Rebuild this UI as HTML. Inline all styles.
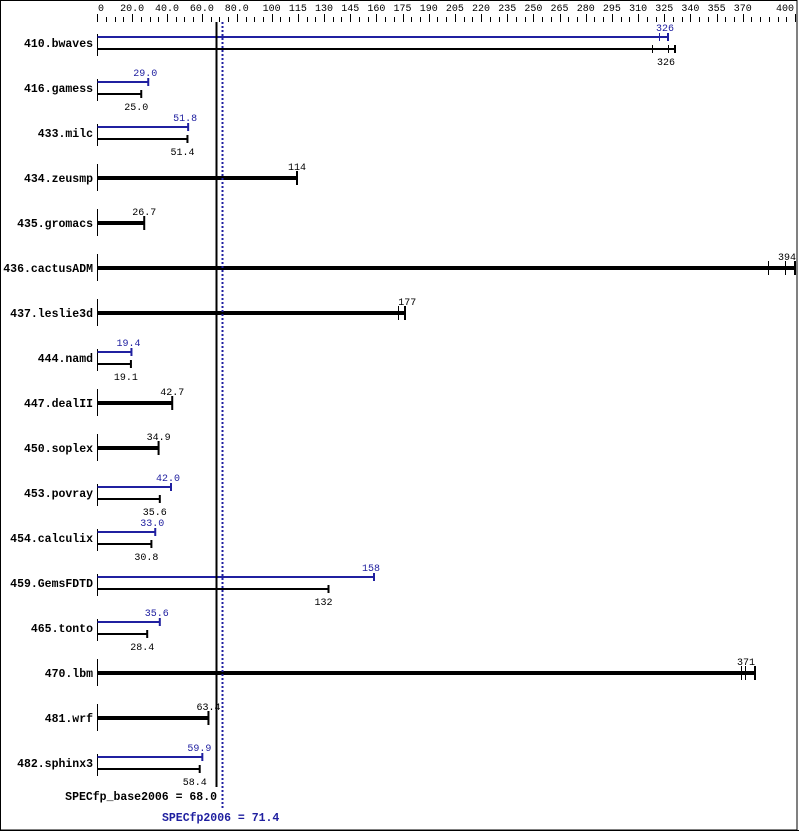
<!DOCTYPE html>
<html><head><meta charset="utf-8"><style>
html,body{margin:0;padding:0;background:#fff;}
svg{display:block;}
text{font-family:"Liberation Mono",monospace;}
.l{font-size:11.5px;font-weight:bold;text-anchor:end;fill:#000;}
.v{font-size:10px;text-anchor:middle;}
.t{font-size:10px;text-anchor:middle;fill:#000;}
</style></head><body>
<svg width="799" height="831" viewBox="0 0 799 831" xmlns="http://www.w3.org/2000/svg">
<rect x="0.5" y="0.5" width="796.5" height="829.5" fill="#fff" stroke="#000" stroke-width="1"/>
<line x1="0" y1="830.5" x2="799" y2="830.5" stroke="#000"/>
<g id="axis" stroke="#000" stroke-width="1"></g>
<g id="axl"></g>
<g id="rows"></g>
<line x1="216.5" y1="22" x2="216.5" y2="787" stroke="#000" stroke-width="2"/>
<line x1="222.5" y1="22" x2="222.5" y2="808" stroke="#2020a0" stroke-width="2" stroke-dasharray="2,2"/>
<text x="217" y="800" class="l" style="font-size:11.5px">SPECfp_base2006 = 68.0</text>
<text x="162" y="821" style="font-size:11.5px;font-weight:bold;fill:#2020a0">SPECfp2006 = 71.4</text>
</svg>
<script>
var NS="http://www.w3.org/2000/svg",x0=97.5,s=1.75;
function X(v){return x0+v*s;}
function el(p,t,a,txt){var e=document.createElementNS(NS,t);for(var k in a)e.setAttribute(k,a[k]);if(txt!=null)e.textContent=txt;p.appendChild(e);return e;}
var ax=document.getElementById('axis'),al=document.getElementById('axl');
var labs=[0,20,40,60,80,100,115,130,145,160,175,190,205,220,235,250,265,280,295,310,325,340,355,370,400];
for(var v=0;v<=400;v+=5){var x=Math.round(X(v)*0.997)+0.5;if(v==0)x=97.5;var big=labs.indexOf(v)>=0;el(ax,'line',{x1:x,y1:big?14:17,x2:x,y2:22});}
labs.forEach(function(v){var x=X(v)*0.997;if(v==0)x=101;var t=v<100?(v==0?'0':v.toFixed(1)):String(v);if(v==400)x=785;el(al,'text',{x:x,y:11,'class':'t'},t);});
var rows=[["410.bwaves",326,326,[652]],["416.gamess",29.0,25.0],["433.milc",51.8,51.4],["434.zeusmp",null,114],["435.gromacs",null,26.7],["436.cactusADM",null,394,[768,785]],["437.leslie3d",null,177,[398]],["444.namd",19.4,19.1],["447.dealII",null,42.7],["450.soplex",null,34.9],["453.povray",42.0,35.6],["454.calculix",33.0,30.8],["459.GemsFDTD",158,132],["465.tonto",35.6,28.4],["470.lbm",null,371,[741,745]],["481.wrf",null,63.4],["482.sphinx3",59.9,58.4]];
var R=document.getElementById('rows');
function fmt(v){return v>=100?String(Math.round(v)):v.toFixed(1);}
rows.forEach(function(r,i){var c=43+45*i;el(R,'text',{x:93,y:c+4,'class':'l'},r[0]);
 if(r[1]==null){var e=X(r[2]),lx=e;if(r[2]==394){e=795;lx=787;}if(r[2]==371){e=755;lx=746;}if(r[2]==177)e=405;
  el(R,'line',{x1:97.5,y1:c-14,x2:97.5,y2:c+13,stroke:'#000'});
  el(R,'rect',{x:97.5,y:c-2,width:e-97.5,height:4,fill:'#000'});
  el(R,'line',{x1:e,y1:c-7,x2:e,y2:c+7,stroke:'#000','stroke-width':2});
  (r[3]||[]).forEach(function(t){el(R,'line',{x1:t+0.5,y1:c-7,x2:t+0.5,y2:c+7,stroke:'#000'});});
  el(R,'text',{x:lx,y:c-8,'class':'v',fill:'#000'},fmt(r[2]));
 }else{var b=X(r[1]),k=X(r[2]);if(r[3]){k=675;}
  el(R,'line',{x1:97.5,y1:c-9,x2:97.5,y2:c+13,stroke:'#000'});
  el(R,'rect',{x:97.5,y:c-7,width:b-97.5,height:2,fill:'#2020a0'});
  el(R,'line',{x1:b,y1:c-10,x2:b,y2:c-2,stroke:'#2020a0','stroke-width':2});
  el(R,'rect',{x:97.5,y:c+5,width:k-97.5,height:2,fill:'#000'});
  el(R,'line',{x1:k,y1:c+2,x2:k,y2:c+10,stroke:'#000','stroke-width':2});
  if(r[3]){el(R,'line',{x1:652.5,y1:c+2,x2:652.5,y2:c+10,stroke:'#000'});el(R,'line',{x1:668.5,y1:c+2,x2:668.5,y2:c+10,stroke:'#000'});el(R,'line',{x1:659.5,y1:c-10,x2:659.5,y2:c-2,stroke:'#2020a0'});}
  el(R,'text',{x:b-3,y:c-12,'class':'v',fill:'#2020a0'},fmt(r[1]));
  el(R,'text',{x:r[3]?666:k-5,y:c+22,'class':'v',fill:'#000'},fmt(r[2]));
 }});
</script>
</body></html>
